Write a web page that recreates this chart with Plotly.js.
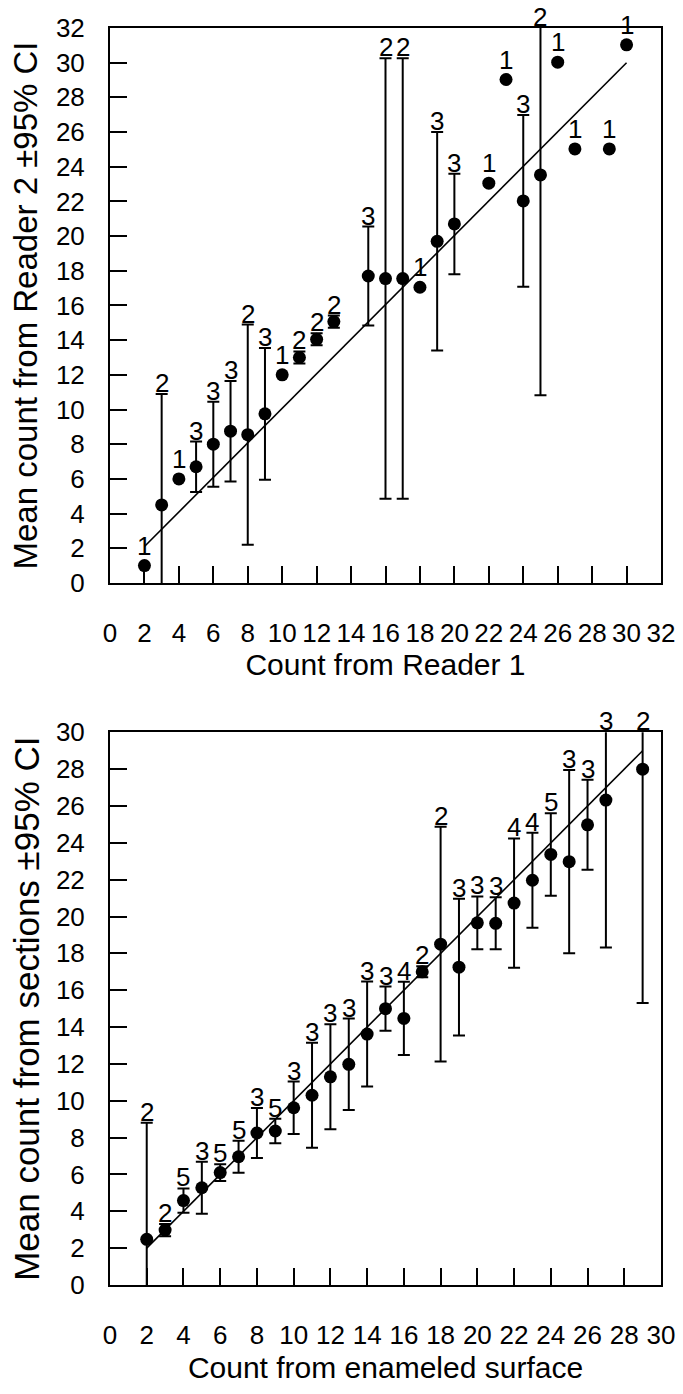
<!DOCTYPE html>
<html>
<head>
<meta charset="utf-8">
<script src="https://cdn.plot.ly/plotly-3.0.1.min.js"></script>
<style>html,body{margin:0;padding:0;background:#fff;}</style>
</head>
<body>
<div id="chart" style="width:683px;height:1394px;"></div>
<script>
// ---- Top panel: Reader 1 vs Reader 2 ----
const topX    = [2, 3, 4, 5, 6, 7, 8, 9, 10, 11, 12, 13, 15, 16, 17, 18, 19, 20, 22, 23, 24, 25, 26, 27, 29, 30];
const topMean = [1, 4.5, 6, 6.7, 8.0, 8.75, 8.55, 9.75, 12, 13, 14.05, 15.07, 17.7, 17.55, 17.55, 17.05, 19.7, 20.7, 23.05, 29.03, 22.03, 23.53, 30.03, 25.03, 25.03, 31.03];
const topCI   = [null, 6.4, null, 1.45, 2.45, 2.9, 6.35, 3.8, null, 0.35, 0.35, 0.35, 2.85, 12.7, 12.7, null, 6.3, 2.9, null, null, 4.95, 12.7, null, null, null, null];
const topN    = [1, 2, 1, 3, 3, 3, 2, 3, 1, 2, 2, 2, 3, 2, 2, 1, 3, 3, 1, 1, 3, 2, 1, 1, 1, 1];
const topFitX = [2, 30];
const topFitY = [2.1, 30.0];
const topMax  = 32;

// ---- Bottom panel: enameled surface vs sections ----
const botX    = [2, 3, 4, 5, 6, 7, 8, 9, 10, 11, 12, 13, 14, 15, 16, 17, 18, 19, 20, 21, 22, 23, 24, 25, 26, 27, 29];
const botMean = [2.48, 2.98, 4.58, 5.28, 6.1, 6.96, 8.25, 8.36, 9.62, 10.3, 11.3, 11.98, 13.62, 15.0, 14.47, 17.0, 18.5, 17.25, 19.66, 19.63, 20.73, 21.97, 23.37, 22.98, 24.98, 26.32, 28.0];
const botCI   = [6.33, 0.33, 0.66, 1.41, 0.45, 0.87, 1.36, 0.66, 1.42, 2.85, 2.85, 2.48, 2.85, 1.2, 1.99, 0.3, 6.37, 3.71, 1.43, 1.41, 3.51, 2.58, 2.24, 4.97, 2.44, 8.0, 12.7];
const botN    = [2, 2, 5, 3, 5, 5, 3, 5, 3, 3, 3, 3, 3, 3, 4, 2, 2, 3, 3, 3, 4, 4, 5, 3, 3, 3, 2];
const botFitX = [2, 29];
const botFitY = [2.0, 29.0];
const botMax  = 30;

const FONT = 'Liberation Sans, Arial, Helvetica, sans-serif';

function pointTrace(x, y, ci, xa, ya) {
  return {
    type: 'scatter', mode: 'markers', x: x, y: y, xaxis: xa, yaxis: ya,
    marker: {color: '#000', size: 13},
    error_y: {type: 'data', symmetric: true, array: ci.map(v => v === null ? NaN : v),
              visible: true, color: '#000', thickness: 2, width: 6},
    showlegend: false, hoverinfo: 'x+y'
  };
}
function fitTrace(x, y, xa, ya) {
  return {type: 'scatter', mode: 'lines', x: x, y: y, xaxis: xa, yaxis: ya,
          line: {color: '#000', width: 1.6}, showlegend: false, hoverinfo: 'skip'};
}
function nLabels(x, mean, ci, n, ymax, xref, yref) {
  return x.map((xv, i) => {
    const has = ci[i] !== null;
    const yv = has ? Math.min(mean[i] + ci[i], ymax) : mean[i];
    return {x: xv, y: yv, xref: xref, yref: yref, text: String(n[i]), showarrow: false,
            yanchor: 'bottom', xanchor: 'center', yshift: has ? -6 : 3,
            font: {family: FONT, size: 26, color: '#000'}};
  });
}

function axisBase(extra) {
  return Object.assign({
    showgrid: false, zeroline: false, showline: true, linecolor: '#000', linewidth: 2,
    mirror: true, ticks: 'inside', ticklen: 17, tickwidth: 2, tickcolor: '#000',
    tickmode: 'linear', tick0: 0, dtick: 2, fixedrange: true,
    tickfont: {family: FONT, size: 26, color: '#000'}
  }, extra);
}

const data = [
  fitTrace(topFitX, topFitY, 'x', 'y'),
  pointTrace(topX, topMean, topCI, 'x', 'y'),
  fitTrace(botFitX, botFitY, 'x2', 'y2'),
  pointTrace(botX, botMean, botCI, 'x2', 'y2')
];

const layout = {
  width: 683, height: 1394, autosize: false,
  margin: {l: 110, r: 22, t: 28, b: 109, pad: 0},
  paper_bgcolor: '#fff', plot_bgcolor: '#fff',
  font: {family: FONT, color: '#000'},
  showlegend: false,
  xaxis: axisBase({domain: [0, 1], anchor: 'y', range: [0, topMax], ticklabelstandoff: 26,
    title: {text: 'Count from Reader 1', font: {family: FONT, size: 30, color: '#000'}, standoff: 6}}),
  yaxis: axisBase({domain: [0.5585, 1], anchor: 'x', range: [0, topMax], ticklabelstandoff: 18,
    title: {text: 'Mean count from Reader 2 ±95% CI', font: {family: FONT, size: 33, color: '#000'}, standoff: 8}}),
  xaxis2: axisBase({domain: [0, 1], anchor: 'y2', range: [0, botMax], ticklabelstandoff: 26,
    title: {text: 'Count from enameled surface', font: {family: FONT, size: 30, color: '#000'}, standoff: 8}}),
  yaxis2: axisBase({domain: [0, 0.4397], anchor: 'x2', range: [0, botMax], ticklabelstandoff: 18,
    title: {text: 'Mean count from sections ±95% CI', font: {family: FONT, size: 35, color: '#000'}, standoff: 6}}),
  annotations: nLabels(topX, topMean, topCI, topN, topMax, 'x', 'y')
    .concat(nLabels(botX, botMean, botCI, botN, botMax, 'x2', 'y2'))
};

Plotly.newPlot('chart', data, layout, {displayModeBar: false, staticPlot: true});
</script>
</body>
</html>
